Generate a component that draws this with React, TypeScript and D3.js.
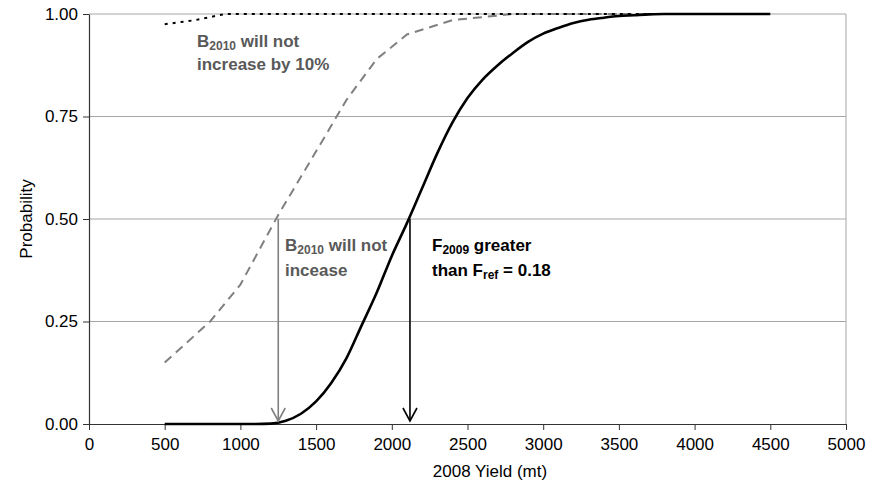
import { useEffect, useRef } from "react";
import * as d3 from "d3";

// F2009 > Fref curve (solid black)
const fYield = [500, 700, 900, 1100, 1200, 1300, 1400, 1500, 1600, 1700, 1800, 1900, 2000, 2100, 2200, 2300, 2400, 2500, 2600, 2700, 2800, 2900, 3000, 3100, 3200, 3300, 3400, 3500, 3600, 3700, 3800, 4000, 4200, 4500];
const fProb = [0, 0, 0, 0, 0.001, 0.008, 0.025, 0.055, 0.1, 0.16, 0.24, 0.32, 0.41, 0.49, 0.575, 0.66, 0.735, 0.795, 0.84, 0.875, 0.905, 0.932, 0.952, 0.966, 0.978, 0.986, 0.991, 0.995, 0.997, 0.999, 1, 1, 1, 1];

// B2010 will not increase (grey dashed)
const bYield = [500, 800, 1000, 1250, 1500, 1700, 1900, 2100, 2400, 2800, 3500, 4500];
const bProb = [0.15, 0.25, 0.34, 0.51, 0.665, 0.79, 0.89, 0.95, 0.985, 1, 1, 1];

// B2010 will not increase by 10% (black dotted)
const b10Yield = [500, 700, 900, 1500, 2500, 3500, 4500];
const b10Prob = [0.975, 0.985, 1, 1, 1, 1, 1];

const xTicks = [0, 500, 1000, 1500, 2000, 2500, 3000, 3500, 4000, 4500, 5000];
const yTicks = [0, 0.25, 0.5, 0.75, 1];

const W = 880;
const H = 483;
const margin = { top: 14, right: 34, bottom: 59, left: 89 };
const FONT = "Liberation Sans, Arial, sans-serif";

const Chart = () => {
  const ref = useRef<SVGSVGElement>(null);

  useEffect(() => {
    const svg = d3.select(ref.current);
    svg.selectAll("*").remove();

    const x = d3.scaleLinear().domain([0, 5000]).range([margin.left, W - margin.right]);
    const y = d3.scaleLinear().domain([0, 1]).range([H - margin.bottom, margin.top]);

    // gridlines
    svg
      .append("g")
      .selectAll("line")
      .data(yTicks.filter((d) => d > 0))
      .join("line")
      .attr("x1", x(0))
      .attr("x2", x(5000))
      .attr("y1", (d) => y(d))
      .attr("y2", (d) => y(d))
      .attr("stroke", "#a6a6a6")
      .attr("stroke-width", 1);

    // right border
    svg
      .append("line")
      .attr("x1", x(5000))
      .attr("x2", x(5000))
      .attr("y1", y(1))
      .attr("y2", y(0))
      .attr("stroke", "#a6a6a6");

    // axes
    const xAxis = svg
      .append("g")
      .attr("transform", `translate(0,${y(0)})`)
      .call(d3.axisBottom(x).tickValues(xTicks).tickFormat(d3.format("d")).tickSize(6).tickSizeOuter(0).tickPadding(8));
    const yAxis = svg
      .append("g")
      .attr("transform", `translate(${x(0)},0)`)
      .call(d3.axisLeft(y).tickValues(yTicks).tickFormat(d3.format(".2f")).tickSize(6).tickSizeOuter(0).tickPadding(5));
    [xAxis, yAxis].forEach((g) => {
      g.attr("font-size", null).attr("font-family", null);
      g.select(".domain").attr("stroke", "#333").attr("stroke-width", 1.2);
      g.selectAll(".tick line").attr("stroke", "#333");
      g.selectAll(".tick text")
        .style("font-family", FONT)
        .style("font-size", "17px")
        .attr("fill", "#000");
    });

    const line = (xs: number[], ys: number[], curve: d3.CurveFactory) =>
      d3
        .line<number>()
        .x((_, i) => x(xs[i]))
        .y((d) => y(d))
        .curve(curve)(ys);

    svg
      .append("path")
      .attr("d", line(bYield, bProb, d3.curveLinear))
      .attr("fill", "none")
      .attr("stroke", "#808080")
      .attr("stroke-width", 2)
      .attr("stroke-dasharray", "9,6");

    svg
      .append("path")
      .attr("d", line(b10Yield, b10Prob, d3.curveLinear))
      .attr("fill", "none")
      .attr("stroke", "#000")
      .attr("stroke-width", 2)
      .attr("stroke-dasharray", "3,5");

    svg
      .append("path")
      .attr("d", line(fYield, fProb, d3.curveMonotoneX))
      .attr("fill", "none")
      .attr("stroke", "#000")
      .attr("stroke-width", 2.6);

    // arrows
    const arrow = (xv: number, color: string) => {
      const g = svg.append("g").attr("stroke", color).attr("stroke-width", 1.6).attr("fill", "none");
      const tip = y(0) - 3;
      g.append("line").attr("x1", x(xv)).attr("x2", x(xv)).attr("y1", y(0.5)).attr("y2", tip);
      g.append("path").attr("d", `M${x(xv) - 7},${tip - 13}L${x(xv)},${tip}L${x(xv) + 7},${tip - 13}`);
    };
    arrow(1250, "#808080");
    arrow(2120, "#000");

    // axis titles
    svg
      .append("text")
      .attr("x", 490)
      .attr("y", 477)
      .attr("text-anchor", "middle")
      .style("font-family", FONT)
      .style("font-size", "17px")
      .text("2008 Yield (mt)");
    svg
      .append("text")
      .attr("transform", `translate(32,${(y(0) + y(1)) / 2}) rotate(-90)`)
      .attr("text-anchor", "middle")
      .style("font-family", FONT)
      .style("font-size", "17px")
      .text("Probability");

    // annotations
    const note = (px: number, py: number, color: string, parts: [string, boolean][]) => {
      const t = svg
        .append("text")
        .attr("x", px)
        .attr("y", py)
        .attr("fill", color)
        .style("font-family", FONT)
        .style("font-weight", "bold")
        .style("font-size", "17px");
      parts.forEach(([s, sub], i) => {
        const span = t.append("tspan").text(s);
        if (sub) span.style("font-size", "12px").attr("dy", 3);
        else if (i > 0) span.attr("dy", -3);
      });
    };
    note(197, 47, "#595959", [["B", false], ["2010", true], [" will not", false]]);
    note(197, 70, "#595959", [["increase by 10%", false]]);
    note(285, 251, "#595959", [["B", false], ["2010", true], [" will not", false]]);
    note(285, 276, "#595959", [["incease", false]]);
    note(432, 251, "#000", [["F", false], ["2009", true], [" greater", false]]);
    note(432, 276, "#000", [["than F", false], ["ref", true], [" = 0.18", false]]);
  }, []);

  return (
    <svg
      ref={ref}
      width={W}
      height={H}
      style={{ position: "absolute", left: 0, top: 0, display: "block", background: "#fff" }}
    ></svg>
  );
};

export default function App() {
  return <Chart />;
}
